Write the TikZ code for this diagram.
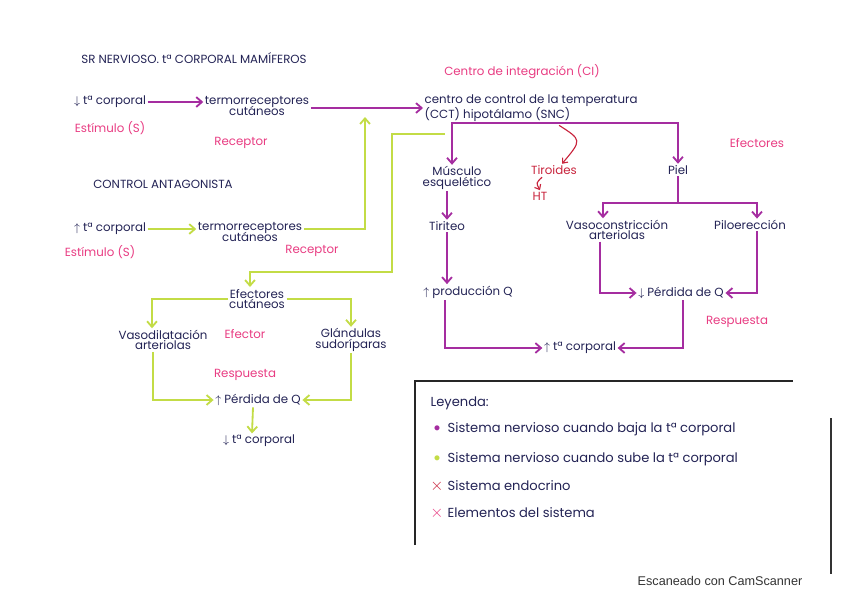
\documentclass[tikz,border=0pt]{standalone}
\usepackage{fontspec}
\setmainfont{Poppins}
\newfontfamily\scanfont{Liberation Sans}
\usetikzlibrary{arrows.meta, positioning, calc}
\definecolor{mynavy}{RGB}{35,35,85}
\definecolor{mycold}{RGB}{165,45,160}
\definecolor{myhot}{RGB}{195,220,70}
\definecolor{mypink}{RGB}{232,60,130}
\definecolor{myendo}{RGB}{200,35,60}
\tikzset{
  txt/.style={font=\fontsize{8.4}{9.6}\selectfont, text=mynavy, align=center, inner sep=1pt},
  lefttxt/.style={txt, align=left},
  legtxt/.style={font=\fontsize{9.3}{11}\selectfont, text=mynavy, inner sep=1pt},
  tag/.style={font=\fontsize{8.4}{9.6}\selectfont, text=mypink, inner sep=1pt},
  endotxt/.style={font=\fontsize{8.4}{9.6}\selectfont, text=myendo, inner sep=1pt},
  coldline/.style={line width=1.3pt, color=mycold},
  coldarrow/.style={coldline, -{Straight Barb[length=4pt,width=7pt]}},
  hotline/.style={line width=1.3pt, color=myhot},
  hotarrow/.style={hotline, -{Straight Barb[length=4pt,width=7pt]}},
  endoarrow/.style={line width=0.8pt, color=myendo, -{Straight Barb[length=3pt,width=5pt]}},
  legendline/.style={line width=1.6pt, color=black!85}
}
\begin{document}
\begin{tikzpicture}[x=0.025cm, y=-0.025cm]
  \useasboundingbox (0,0) rectangle (848,599);
  % Title
  \node[txt] (titulo) at (194,58) {SR NERVIOSO. tª CORPORAL MAMÍFEROS};

  % When body temperature drops
  \node[txt] (bajaT) at (110,102) {$\downarrow$ tª corporal};
  \node[txt] (termoA) at (257,106) {termorreceptores\\[-2pt]cutáneos};
  \node[lefttxt, anchor=west] (cct) at (423,108) {centro de control de la temperatura\\(CCT) hipotálamo (SNC)};
  \node[tag] (estA) at (110,128) {Estímulo (S)};
  \node[tag] (recA) at (241,143) {Receptor};
  \node[tag] (integ) at (522,72) {Centro de integración (CI)};
  \node[tag] (efecA) at (757,143) {Efectores};

  \draw[coldarrow] (bajaT.east) -- (termoA.west |- bajaT.east);
  \draw[coldarrow] (termoA.east |- cct.west) -- (cct.west);

  % Effectors of the cold response
  \node[txt] (musculo) at (457,178) {Músculo\\[-2pt]esquelético};
  \node[endotxt] (tiroides) at (554,170) {Tiroides};
  \node[endotxt] (ht) at (540,196) {HT};
  \node[txt] (piel) at (678,170) {Piel};
  \node[txt] (tiriteo) at (447,226) {Tiriteo};
  \node[txt] (produccion) at (468,292) {$\uparrow$ producción Q};
  \node[txt] (vasoc) at (617,230) {Vasoconstricción\\[-2pt]arteriolas};
  \node[txt] (pilo) at (750,225) {Piloerección};
  \node[txt] (perdidaA) at (681,293) {$\downarrow$ Pérdida de Q};
  \node[tag] (respA) at (737,322) {Respuesta};
  \node[txt] (subeT) at (580,348) {$\uparrow$ tª corporal};

  \coordinate (levC) at (0,147);
  \coordinate (levP) at (0,203);
  \draw[coldline] ($(cct.south)+(12,0)$) -- ($(cct.south)+(12,0)$ |- levC);
  \draw[coldarrow] ($(cct.south)+(12,0)$ |- levC) -| ($(musculo.north)+(-5,0)$);
  \draw[coldarrow] ($(cct.south)+(12,0)$ |- levC) -| (piel.north);
  \draw[endoarrow] ($(cct.south)+(28,2)$) .. controls (582,140) .. ($(tiroides.north)+(8,0)$);
  \draw[endoarrow] ($(tiroides.south)+(-12,1)$) .. controls (536,183) .. (ht.north);
  \draw[coldarrow] (musculo.south -| tiriteo) -- (tiriteo.north);
  \draw[coldarrow] (tiriteo.south) -- (tiriteo.south |- produccion.north);
  \draw[coldline] (piel.south) -- (piel.south |- levP);
  \draw[coldarrow] (piel.south |- levP) -| ($(vasoc.north)+(-14,0)$);
  \draw[coldarrow] (piel.south |- levP) -| ($(pilo.north)+(7,0)$);
  \draw[coldarrow] ($(vasoc.south)+(-17,0)$) |- (perdidaA.west);
  \draw[coldarrow] ($(pilo.south)+(7,0)$) |- (perdidaA.east);
  \draw[coldarrow] ($(produccion.south)+(-23,0)$) |- (subeT.west);
  \draw[coldarrow] ($(perdidaA.south)+(2,0)$) |- (subeT.east);

  % Antagonistic control: body temperature rises
  \node[txt] (antag) at (163,184) {CONTROL ANTAGONISTA};
  \node[txt] (subeB) at (110,229) {$\uparrow$ tª corporal};
  \node[txt] (termoB) at (250,232) {termorreceptores\\[-2pt]cutáneos};
  \node[tag] (estB) at (100,252) {Estímulo (S)};
  \node[tag] (recB) at (312,251) {Receptor};
  \coordinate (cctin) at (365,117);
  \coordinate (cctout) at (445,134);
  \coordinate (turnB) at (392,272);

  \draw[hotarrow] (subeB.east) -- (termoB.west |- subeB.east);
  \draw[hotarrow] (termoB.east |- subeB) -| (cctin);
  \draw[hotarrow] (cctout) -| (turnB) -| (250,287);

  % Effectors of the heat response
  \node[txt] (efC) at (257,299) {Efectores\\[-2pt]cutáneos};
  \node[txt] (vasod) at (163,340) {Vasodilatación\\[-2pt]arteriolas};
  \node[tag] (efecB) at (245,334) {Efector};
  \node[txt] (glan) at (351,340) {Glándulas\\[-2pt]sudoríparas};
  \node[tag] (respB) at (245,375) {Respuesta};
  \node[txt] (perdidaB) at (258,400) {$\uparrow$ Pérdida de Q};
  \node[txt] (bajaB) at (259,441) {$\downarrow$ tª corporal};

  \draw[hotarrow] (efC.west) -| ($(vasod.north)+(-11,0)$);
  \draw[hotarrow] (efC.east) -| (glan.north);
  \draw[hotarrow] ($(vasod.south)+(-10,0)$) |- (perdidaB.west);
  \draw[hotarrow] (glan.south) |- (perdidaB.east);
  \draw[hotarrow] ($(perdidaB.south)+(-5,0)$) -- ($(bajaB.north)+(-7,0)$);

  % Legend
  \draw[legendline] (415,545) -- (415,381) -- (793,381);
  \node[legtxt, anchor=west] (leyenda) at (429,403) {Leyenda:};
  \foreach \y/\mk/\t [count=\i] in {
      429/{\textcolor{mycold}{$\bullet$}}/Sistema nervioso cuando baja la tª corporal,
      459/{\textcolor{myhot}{$\bullet$}}/Sistema nervioso cuando sube la tª corporal,
      486/{\textcolor{myendo}{\large$\times$}}/Sistema endocrino,
      513/{\textcolor{mypink}{\large$\times$}}/Elementos del sistema} {
    \node[legtxt] (mark\i) at (437,\y) {\mk};
    \node[legtxt, anchor=west] (item\i) at (446,\y) {\t};
  }

  % Scan footer
  \draw[line width=1pt, black!80] (831,418) -- (831,574);
  \node[font=\scanfont\fontsize{9}{10}\selectfont, text=black!80] (scan) at (720,581) {Escaneado con CamScanner};
\end{tikzpicture}
\end{document}
